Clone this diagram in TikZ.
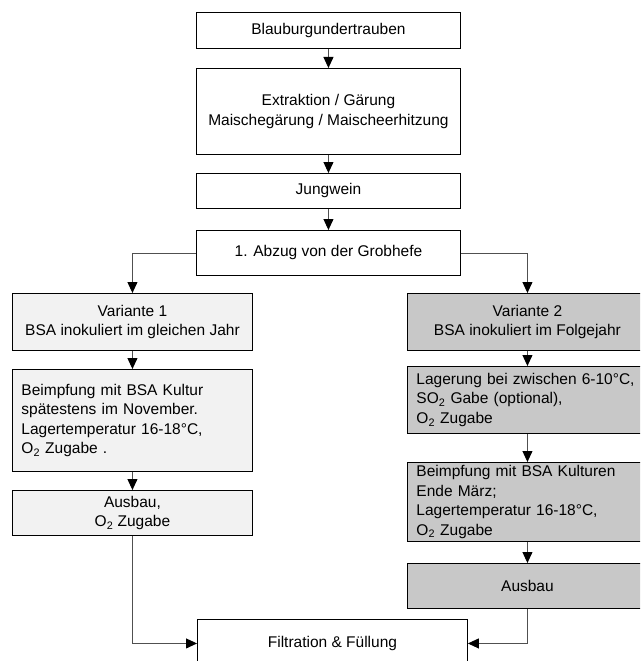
\documentclass[tikz,border=0pt]{standalone}
\usepackage{fontspec}
\setmainfont{Liberation Sans}
\usetikzlibrary{arrows.meta}
\definecolor{lightfill}{HTML}{F2F2F2}
\definecolor{darkfill}{HTML}{C8C8C8}
\definecolor{linegray}{HTML}{505050}
\tikzset{
  box/.style={draw=black, line width=0.9pt, fill=white, inner sep=0pt,
    anchor=north west, align=center,
    font=\fontsize{15.5}{19.5}\selectfont},
  lbox/.style={box, fill=lightfill},
  dbox/.style={box, fill=darkfill},
  leftbox/.style={align=left, inner xsep=9pt},
  conn/.style={draw=linegray, line width=0.9pt,
    -{Triangle[width=10pt,length=11pt,color=black]}},
}
\newcommand{\Otwo}{O\textsubscript{2}}
\begin{document}
\begin{tikzpicture}[x=1pt,y=-1pt]
\useasboundingbox (0,0) rectangle (640,661);
\clip (0,0) rectangle (640,661);
\fill[white] (0,0) rectangle (640,661);
% middle column
\node[box, minimum width=264pt, minimum height=36pt] (b1) at (196,12) {Blauburgundertrauben};
\node[box, minimum width=264pt, minimum height=86pt] (b2) at (196,68) {Extraktion / Gärung\\Maischegärung / Maischeerhitzung};
\node[box, minimum width=264pt, minimum height=35pt] (b3) at (196,173) {Jungwein};
\node[box, minimum width=264pt, minimum height=45pt] (b4) at (196,230) {1. Abzug von der Grobhefe};
% left column
\node[lbox, minimum width=240pt, minimum height=57pt] (l1) at (12,293) {Variante 1\\BSA inokuliert im gleichen Jahr};
\node[lbox, leftbox, text width=222pt, minimum height=102pt] (l2) at (12,369) {Beimpfung mit BSA Kultur\\spätestens im November.\\Lagertemperatur 16-18°C,\\\Otwo{} Zugabe .};
\node[lbox, minimum width=240pt, minimum height=45pt] (l3) at (12,490) {Ausbau,\\\Otwo{} Zugabe};
% right column
\node[dbox, minimum width=240pt, minimum height=57pt] (r1) at (407,293) {Variante 2\\BSA inokuliert im Folgejahr};
\node[dbox, leftbox, text width=222pt, minimum height=67pt] (r2) at (407,366) {\mbox{Lagerung bei zwischen 6-10°C,}\\SO\textsubscript{2} Gabe (optional),\\\Otwo{} Zugabe};
\node[dbox, leftbox, text width=222pt, minimum height=79pt] (r3) at (407,462) {Beimpfung mit BSA Kulturen\\Ende März;\\Lagertemperatur 16-18°C,\\\Otwo{} Zugabe};
\node[dbox, minimum width=240pt, minimum height=45pt] (r4) at (407,563) {Ausbau};
% bottom
\node[box, minimum width=270pt, minimum height=48pt] (f) at (197,619) {Filtration \& Füllung};
% connectors
\draw[conn] (b1.south) -- (b2.north);
\draw[conn] (b2.south) -- (b3.north);
\draw[conn] (b3.south) -- (b4.north);
\draw[conn] (b4.west) -| (l1.north);
\draw[conn] (b4.east) -| (r1.north);
\draw[conn] (l1.south) -- (l2.north);
\draw[conn] (l2.south) -- (l3.north);
\draw[conn] (r1.south) -- (r2.north);
\draw[conn] (r2.south) -- (r3.north);
\draw[conn] (r3.south) -- (r4.north);
\draw[conn] (l3.south) |- (f.west);
\draw[conn] (r4.south) |- (f.east);
\end{tikzpicture}
\end{document}
